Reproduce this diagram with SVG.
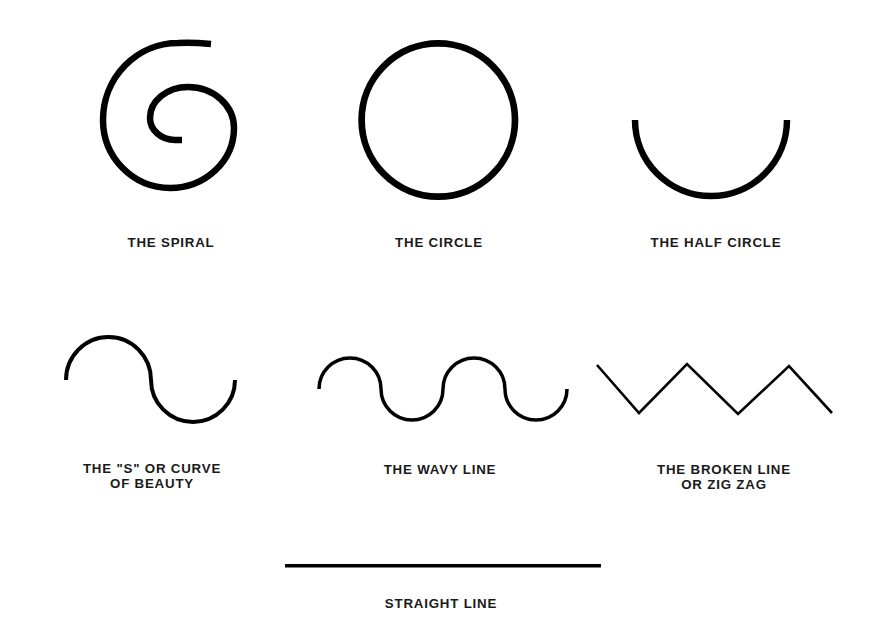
<svg xmlns="http://www.w3.org/2000/svg" width="881" height="634" viewBox="0 0 881 634">
<style>
.shape{fill:none;stroke:#000;stroke-linecap:butt;stroke-linejoin:miter}
.lbl{font-family:"Liberation Sans",Arial,sans-serif;font-weight:bold;font-size:13.3px;letter-spacing:0.8px;fill:#1a1a1a;text-anchor:middle}
</style>
<rect width="881" height="634" fill="#fff"/>
<g id="spiral">
<path class="shape" stroke-width="6.5" stroke-linecap="round" d="M211,44 C200,43 188,42.5 178,43 A75,77 0 0 0 103,120 A67,68 0 0 0 170,188 A64,60 0 0 0 234,128 A46,41 0 0 0 188,87 A38,31 0 0 0 150,118 A25,22 0 0 0 175,140 L182,140"/>
<text class="lbl" x="171" y="247">THE SPIRAL</text>
</g>
<g id="circle">
<circle class="shape" stroke-width="6.7" cx="438.3" cy="120" r="76.7"/>
<text class="lbl" x="439" y="247">THE CIRCLE</text>
</g>
<g id="half-circle">
<path class="shape" stroke-width="6.5" d="M635,120 A76,76 0 0 0 787,120"/>
<text class="lbl" x="716" y="247">THE HALF CIRCLE</text>
</g>
<g id="s-curve">
<path class="shape" stroke-width="4" d="M66,380 A42.5,43 0 0 1 151,380 A42,42 0 0 0 235,380"/>
<text class="lbl" x="152" y="473">THE "S" OR CURVE</text>
<text class="lbl" x="152" y="488">OF BEAUTY</text>
</g>
<g id="wavy-line">
<path class="shape" stroke-width="3.5" d="M319,389 A31,31 0 0 1 381,389 A31,31 0 0 0 443,389 A31,31 0 0 1 505,389 A31,31 0 0 0 567,389"/>
<text class="lbl" x="440" y="474">THE WAVY LINE</text>
</g>
<g id="zigzag">
<polyline class="shape" stroke-width="2.6" points="597,365 639,413 687,364 738,414 789,366 832,413"/>
<text class="lbl" x="724" y="474">THE BROKEN LINE</text>
<text class="lbl" x="724" y="489">OR ZIG ZAG</text>
</g>
<g id="straight-line">
<line class="shape" stroke-width="3.5" x1="285" y1="565.7" x2="601" y2="565.7"/>
<text class="lbl" x="441" y="608">STRAIGHT LINE</text>
</g>
<g id="connectors"></g>
</svg>
